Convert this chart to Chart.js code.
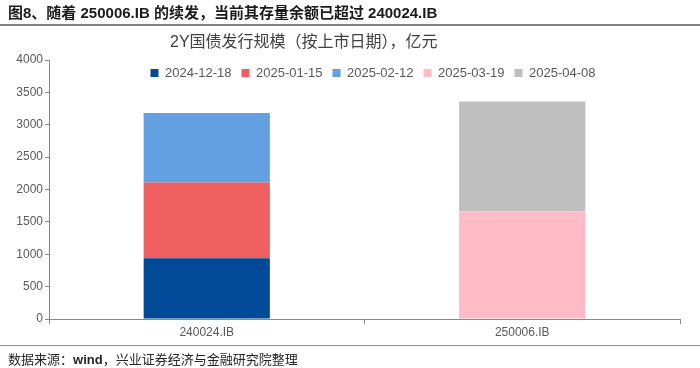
<!DOCTYPE html>
<html>
<head>
<meta charset="utf-8">
<script src="https://cdn.jsdelivr.net/npm/chart.js@4"></script>
<style>
  body { margin: 0; background: #fff; }
  #wrap { position: relative; width: 700px; height: 368px; overflow: hidden; font-family: "Liberation Sans", "Noto Sans CJK SC", sans-serif; }
  #homeChart { position: absolute; left: 0; top: 0; }
  .txt { position: absolute; white-space: nowrap; z-index: 2; }
  #title { left: 8px; top: 1px; font-size: 15px; font-weight: bold; color: #1a1a1a; }
  #rule1 { position: absolute; left: 0; top: 24px; width: 700px; height: 2px; background: #7f7f7f; }
  #subtitle { left: 170px; top: 28px; font-size: 16px; color: #404040; }
  #rule2 { position: absolute; left: 0; top: 345px; width: 700px; height: 1px; background: #8c8c8c; }
  #source { left: 8px; top: 349px; font-size: 13px; color: #262626; }
</style>
</head>
<body>
<div id="wrap">
  <canvas id="homeChart" width="700" height="368"></canvas>
  <div class="txt" id="title">图8、随着 250006.IB 的续发，当前其存量余额已超过 240024.IB</div>
  <div id="rule1"></div>
  <div class="txt" id="subtitle">2Y国债发行规模（按上市日期），亿元</div>
  <div id="rule2"></div>
  <div class="txt" id="source">数据来源：<b>wind</b>，兴业证券经济与金融研究院整理</div>
</div>
<script>
var BONDS = ['240024.IB', '250006.IB'];
var DATES = ['2024-12-18', '2025-01-15', '2025-02-12', '2025-03-19', '2025-04-08'];

// issuance by listing date, 亿元
var issue20241218 = [940, 0];
var issue20250115 = [1170, 0];
var issue20250212 = [1070, 0];
var issue20250319 = [0, 1660];
var issue20250408 = [0, 1700];

var Y_TICKS = [0, 500, 1000, 1500, 2000, 2500, 3000, 3500, 4000];

const COLORS = ['#004a98', '#ef5f5f', '#62a0e2', '#ffbbc6', '#bfbfbf'];
const series = [issue20241218, issue20250115, issue20250212, issue20250319, issue20250408];
const FONT = '"Liberation Sans", "Noto Sans CJK SC", sans-serif';

// legend sits inside the plot area in the original
const moveLegend = {
  id: 'moveLegend',
  afterLayout(chart) {
    const lg = chart.legend;
    lg.top += 29.5; lg.bottom += 29.5;
    lg.left += 33; lg.right += 33;
  }
};

const ctx = document.getElementById('homeChart');
new Chart(ctx, {
  type: 'bar',
  data: {
    labels: BONDS,
    datasets: DATES.map((d, i) => ({
      label: d,
      data: series[i],
      backgroundColor: COLORS[i],
      borderWidth: 0,
      barPercentage: 0.5,
      categoryPercentage: 0.8
    }))
  },
  plugins: [moveLegend],
  options: {
    responsive: false,
    animation: false,
    layout: { padding: { top: 27, left: 0, right: 20, bottom: 25 } },
    plugins: {
      tooltip: { enabled: false },
      legend: {
        position: 'top',
        labels: {
          boxWidth: 8,
          boxHeight: 8,
          padding: 10,
          color: '#595959',
          font: { family: FONT, size: 13 }
        }
      }
    },
    scales: {
      x: {
        stacked: true,
        afterFit: (s) => { s.height = 24; },
        grid: { offset: true, drawOnChartArea: false, tickLength: 5, color: '#898989' },
        border: { color: '#898989' },
        ticks: { padding: 1, color: '#595959', font: { family: FONT, size: 12 } }
      },
      y: {
        stacked: true,
        min: 0,
        max: 4000,
        afterFit: (s) => { s.width = 49; },
        afterBuildTicks: (s) => { s.ticks = Y_TICKS.map(v => ({ value: v })); },
        grid: { drawOnChartArea: false, tickLength: 4, color: '#898989' },
        border: { color: '#898989' },
        ticks: {
          padding: 2,
          color: '#595959',
          font: { family: FONT, size: 12 },
          callback: (v) => String(v)
        }
      }
    }
  }
});
</script>
</body>
</html>
